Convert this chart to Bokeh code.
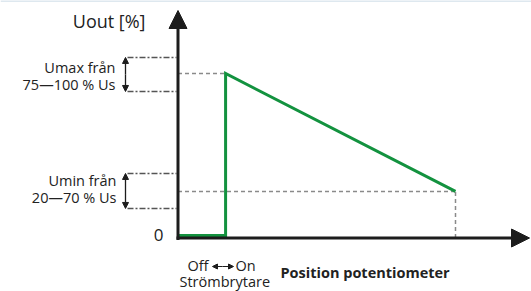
from bokeh.plotting import figure
from bokeh.models import Range1d, Arrow, NormalHead, Label, Span
from bokeh.embed import file_html
from bokeh.resources import INLINE

# ---- data (schematic values) ----
pos = [0, 17, 17, 100]          # potentiometer position (%): off, switch, switch, end
uout = [0, 0, 100, 27.2]        # output voltage (%)
umax_band = [88.9, 109.9]       # Umax adjustment band
umin_band = [16.7, 38.3]        # Umin adjustment band
y_title = "Uout [%]"
x_title = "Position potentiometer"
umax_text = ["Umax från", "75—100 % Us"]
umin_text = ["Umin från", "20—70 % Us"]
off_text = "Off"
on_text = "On"
switch_text = "Strömbrytare"
zero_text = "0"

FONT = "Open Sans"
TXT = "#222222"
GREEN = "#13923f"
AX = "#1c1c1c"
GRAY = "#8a8a8a"
DARK = "#555555"

W, H = 531, 291
# layout helpers: pixel placement -> plot units
SX, SY = 2.77, 1.62
X0, Y0 = 178, 235
def X(px):
    return (px - X0) / SX
def Y(py):
    return (Y0 - py) / SY

p = figure(width=W, height=H, output_backend="svg", toolbar_location=None,
           x_range=Range1d(X(0), X(W)), y_range=Range1d(Y(H), Y(0)),
           min_border=0, x_axis_type=None, y_axis_type=None)
p.outline_line_color = None
p.grid.visible = False
p.background_fill_color = "white"
p.border_fill_color = "white"

# thin light top border
p.add_layout(Span(location=Y(0.6), dimension="width", line_color="#d3e0ea", line_width=1.5))

ax_y = Y(237.5)   # x-axis line level
ax_x = X(177.5)   # y-axis line position

# guide dashed lines
p.line([ax_x, pos[2]], [uout[2], uout[2]], line_color=GRAY, line_width=1.5, line_dash="4 3")
p.line([ax_x, pos[3]], [uout[3], uout[3]], line_color=GRAY, line_width=1.5, line_dash="4 3")
p.line([pos[3], pos[3]], [ax_y, uout[3]], line_color=GRAY, line_width=1.5, line_dash="4 3")

# band brackets (dash-dot)
bx0, bx1 = X(127), X(176)
ba = X(125)
for band in (umax_band, umin_band):
    for v in band:
        p.line([bx0, bx1], [v, v], line_color=DARK, line_width=1.5, line_dash="6 2 2 2")
    mid = (band[0] + band[1]) / 2
    for v in band:
        p.add_layout(Arrow(x_start=ba, y_start=mid, x_end=ba, y_end=v,
                           line_color=AX, line_width=1.3,
                           end=NormalHead(size=6, fill_color=AX, line_color=AX)))

# axes with arrow heads
p.add_layout(Arrow(x_start=ax_x, y_start=Y(239.5), x_end=ax_x, y_end=Y(10),
                   line_color=AX, line_width=3,
                   end=NormalHead(size=18, fill_color=AX, line_color=AX, line_width=1)))
p.add_layout(Arrow(x_start=X(176), y_start=ax_y, x_end=X(529), y_end=ax_y,
                   line_color=AX, line_width=3,
                   end=NormalHead(size=18, fill_color=AX, line_color=AX, line_width=1)))

# main green curve
p.line(pos, uout, line_color=GREEN, line_width=3, line_join="miter")

def lab(px, py, t, size, align="left", bold=False):
    p.add_layout(Label(x=X(px), y=Y(py), text=t, text_font=FONT, text_font_size=f"{size}px",
                       text_color=TXT, text_align=align, text_baseline="middle",
                       text_font_style="bold" if bold else "normal"))

lab(145, 20, y_title, 18, "right")
lab(115, 66.5, umax_text[0], 14.5, "right")
lab(115, 83.5, umax_text[1], 14.5, "right")
lab(116, 180, umin_text[0], 14.5, "right")
lab(116, 197, umin_text[1], 14.5, "right")
lab(163, 234.5, zero_text, 17, "right")
lab(187, 265, off_text, 14.5, "left")
lab(235, 265, on_text, 14.5, "left")
lab(179, 280.5, switch_text, 14.5, "left")
lab(280, 271.5, x_title, 14.5, "left", bold=True)

# small switch arrow between Off and On
sw_y = Y(266)
for xa, xb in ((222, 212), (222, 233)):
    p.add_layout(Arrow(x_start=X(xa), y_start=sw_y, x_end=X(xb), y_end=sw_y,
                       line_color=AX, line_width=1.2,
                       end=NormalHead(size=5, fill_color=AX, line_color=AX)))

open("out.html", "w").write(file_html(p, INLINE))
